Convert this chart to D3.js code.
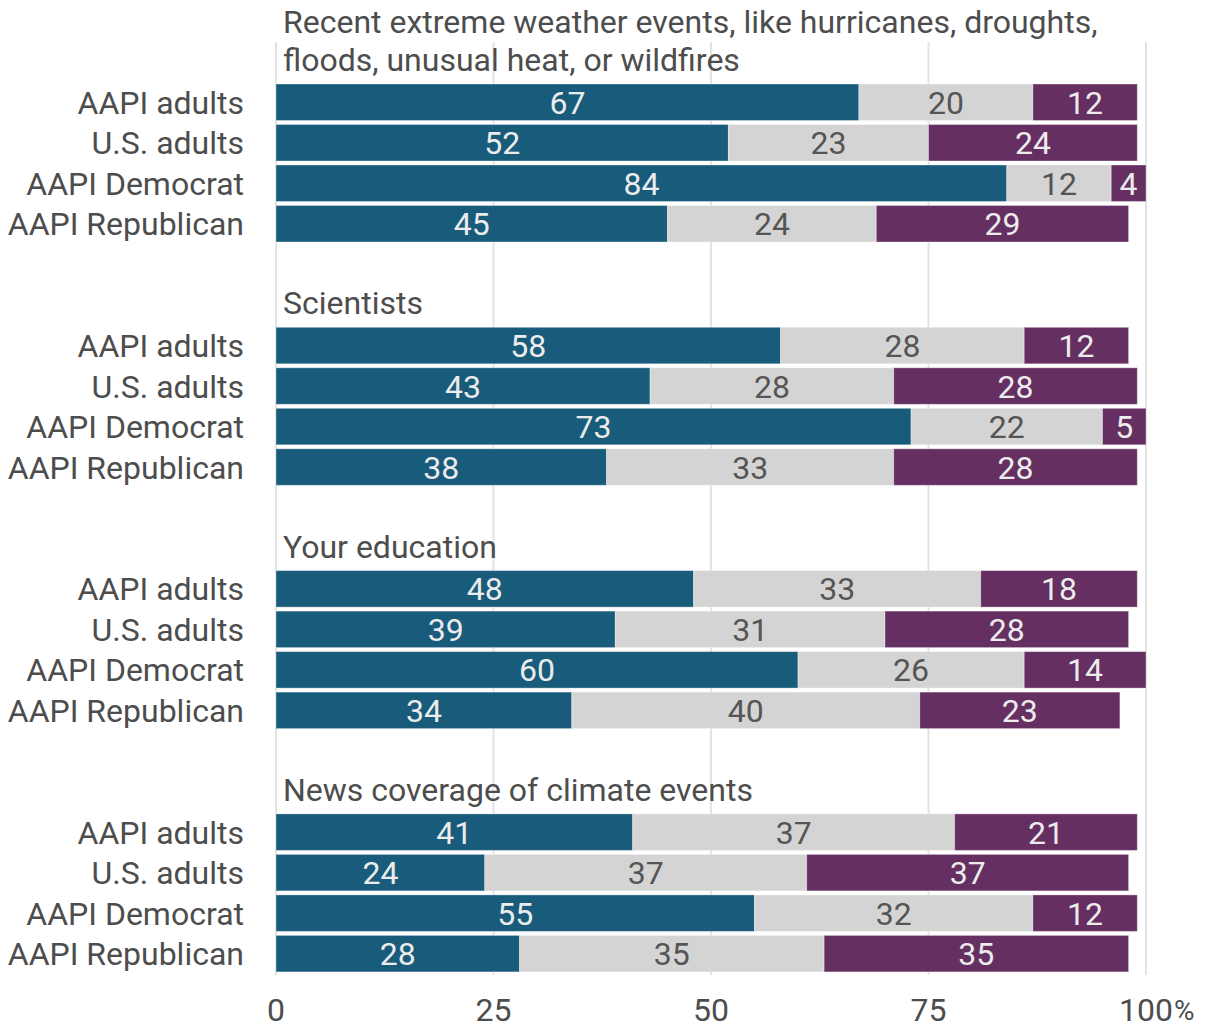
<!DOCTYPE html>
<html>
<head>
<meta charset="utf-8">
<script src="https://cdn.jsdelivr.net/npm/d3@7"></script>
<style>
  html, body { margin: 0; padding: 0; background: #ffffff; }
  svg { display: block; font-family: Roboto, "Noto Sans", sans-serif; }
</style>
</head>
<body>
<svg id="chart" width="1205" height="1029"></svg>
<script>
// ---- data ----
const groupTitles = [
  ["Recent extreme weather events, like hurricanes, droughts,", "floods, unusual heat, or wildfires"],
  ["Scientists"],
  ["Your education"],
  ["News coverage of climate events"]
];
const rowLabels = ["AAPI adults", "U.S. adults", "AAPI Democrat", "AAPI Republican"];
const seriesNames = ["A lot", "Some", "Not at all"];
// values per group, rows in rowLabels order
const seriesA = [[67, 52, 84, 45], [58, 43, 73, 38], [48, 39, 60, 34], [41, 24, 55, 28]];
const seriesB = [[20, 23, 12, 24], [28, 28, 22, 33], [33, 31, 26, 40], [37, 37, 32, 35]];
const seriesC = [[12, 24, 4, 29], [12, 28, 5, 28], [18, 28, 14, 23], [21, 37, 12, 35]];
const tickValues = [0, 25, 50, 75, 100];

// ---- styles ----
const colors = ["#185b7a", "#d4d4d4", "#652f62"];
const labelColors = ["#ececec", "#555555", "#ececec"];
const textColor = "#4d4d4d";
const fs = 32;

const svg = d3.select("#chart");
const x = d3.scaleLinear().domain([0, 100]).range([276, 1146]);
const groupY = d3.scaleLinear().domain([0, 1]).range([84, 84 + 243.3]);
const rowY = d3.scaleBand().domain(rowLabels).range([0, 158]).paddingInner(0.0988).paddingOuter(0);

// gridlines
svg.append("g").selectAll("line").data(tickValues).join("line")
  .attr("x1", d => x(d)).attr("x2", d => x(d))
  .attr("y1", 42).attr("y2", 975)
  .attr("stroke", "#e3e3e3").attr("stroke-width", 2);

// axis tick labels
const axisG = svg.append("g");
tickValues.forEach(v => {
  const t = axisG.append("text")
    .attr("x", x(v)).attr("y", 1021)
    .attr("text-anchor", "middle")
    .attr("font-size", fs).attr("fill", textColor)
    .text(v);
  if (v === 100) {
    const w = t.node().getComputedTextLength();
    axisG.append("text")
      .attr("x", x(v) + w / 2 + 1).attr("y", 1020)
      .attr("font-size", 28).attr("fill", textColor)
      .text("%");
  }
});

const allSeries = [seriesA, seriesB, seriesC];

groupTitles.forEach((lines, gi) => {
  const top = groupY(gi);
  const g = svg.append("g");
  // title
  const n = lines.length;
  lines.forEach((ln, li) => {
    g.append("text")
      .attr("x", 283)
      .attr("y", top - 13 - (n - 1 - li) * 38)
      .attr("font-size", fs).attr("fill", textColor)
      .text(ln);
  });
  rowLabels.forEach((row, ri) => {
    const y0 = top + rowY(row);
    const bh = rowY.bandwidth();
    g.append("text")
      .attr("x", 244).attr("y", y0 + bh / 2 + 11.5)
      .attr("text-anchor", "end")
      .attr("font-size", fs).attr("fill", textColor)
      .text(row);
    let cum = 0;
    allSeries.forEach((s, si) => {
      const v = s[gi][ri];
      const xa = x(cum), xb = x(cum + v);
      g.append("rect")
        .attr("x", xa).attr("y", y0)
        .attr("width", xb - xa).attr("height", bh)
        .attr("fill", colors[si])
        .attr("stroke", "#ffffff").attr("stroke-opacity", 0.35).attr("stroke-width", 1);
      g.append("text")
        .attr("x", (xa + xb) / 2).attr("y", y0 + bh / 2 + 11.5)
        .attr("text-anchor", "middle")
        .attr("font-size", fs).attr("fill", labelColors[si])
        .text(v);
      cum += v;
    });
  });
});
</script>
</body>
</html>
